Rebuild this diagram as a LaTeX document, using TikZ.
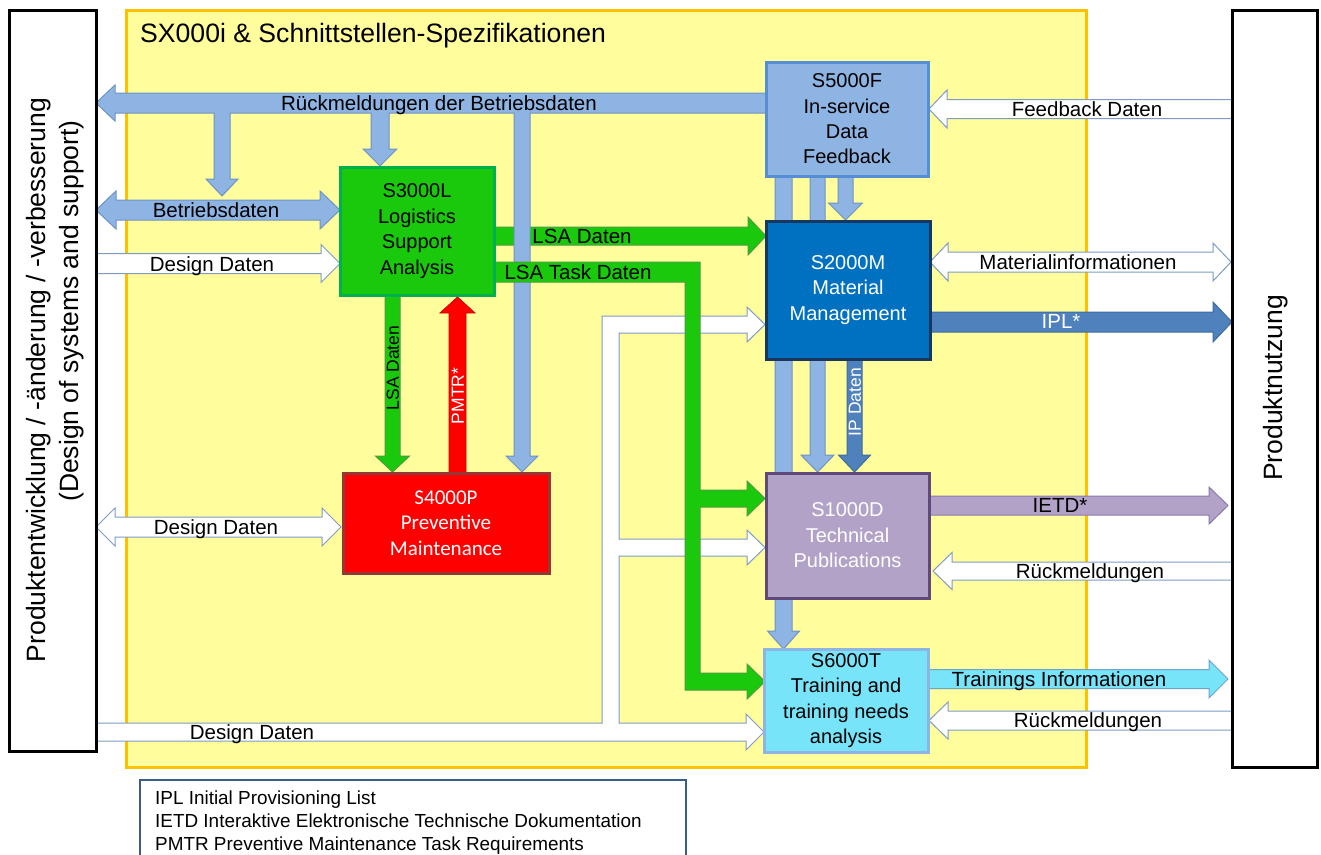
\documentclass[tikz,border=0pt]{standalone}
\usepackage{fontspec}
\setmainfont{Liberation Sans}
\newfontfamily\calibri{Carlito}
\definecolor{yel}{HTML}{FFFD9C}
\definecolor{org}{HTML}{FFC000}
\definecolor{lblue}{HTML}{8EB4E3}
\definecolor{lbluebd}{HTML}{6F93C4}
\definecolor{sfivebd}{HTML}{558ED5}
\definecolor{grn}{HTML}{1BC90C}
\definecolor{grnbd}{HTML}{00B050}
\definecolor{grnarbd}{HTML}{4E9A3E}
\definecolor{mblue}{HTML}{0070C0}
\definecolor{navy}{HTML}{17375E}
\definecolor{ipblue}{HTML}{4F81BD}
\definecolor{ipbd}{HTML}{3F6BA0}
\definecolor{redbd}{HTML}{953735}
\definecolor{purp}{HTML}{B3A2C7}
\definecolor{purpbd}{HTML}{5F497A}
\definecolor{purparbd}{HTML}{8B78AA}
\definecolor{cyn}{HTML}{77E4F9}
\definecolor{cynarbd}{HTML}{6FA3C8}
\definecolor{wbd}{HTML}{7F9CC4}
\definecolor{legbd}{HTML}{385D8A}
% horizontal block arrow: style, tail x, tip x, y centre, shaft half, head half, signed head length
\newcommand\harr[7]{\path[#1] (#2,{#4-#5}) -- ({#3-(#7)},{#4-#5}) -- ({#3-(#7)},{#4-#6}) -- (#3,#4) -- ({#3-(#7)},{#4+#6}) -- ({#3-(#7)},{#4+#5}) -- (#2,{#4+#5}) -- cycle;}
% vertical block arrow: style, x centre, tail y, tip y, shaft half, head half, signed head length
\newcommand\varr[7]{\path[#1] ({#2-#5},#3) -- ({#2-#5},{#4-(#7)}) -- ({#2-#6},{#4-(#7)}) -- (#2,#4) -- ({#2+#6},{#4-(#7)}) -- ({#2+#5},{#4-(#7)}) -- ({#2+#5},#3) -- cycle;}
% double horizontal block arrow
\newcommand\dharr[7]{\path[#1] (#2,#4) -- ({#2+#7},{#4-#6}) -- ({#2+#7},{#4-#5}) -- ({#3-#7},{#4-#5}) -- ({#3-#7},{#4-#6}) -- (#3,#4) -- ({#3-#7},{#4+#6}) -- ({#3-#7},{#4+#5}) -- ({#2+#7},{#4+#5}) -- ({#2+#7},{#4+#6}) -- cycle;}
\tikzset{
  barrow/.style={fill=lblue, draw=lbluebd, line width=1pt},
  warrow/.style={fill=white, draw=wbd, line width=1pt},
  garrow/.style={fill=grn, draw=grnarbd, line width=1pt},
  rarrow/.style={fill=red, draw=red!80!black, line width=0.8pt},
  iparrow/.style={fill=ipblue, draw=ipbd, line width=1pt},
  parrow/.style={fill=purp, draw=purparbd, line width=1pt},
  carrow/.style={fill=cyn, draw=cynarbd, line width=1pt},
  lbl/.style={inner sep=0pt, text height=14.7pt, text depth=0pt, font=\fontsize{20.5}{24}\selectfont},
  vlbl/.style={inner sep=0pt, rotate=90, text height=12.5pt, text depth=0pt, font=\fontsize{17.5}{20}\selectfont},
  box/.style={rectangle, line width=3pt, align=center, inner sep=0pt, font=\fontsize{20}{25.4}\selectfont},
  sidebox/.style={draw=black, line width=3pt},
}
\begin{document}
\begin{tikzpicture}[x=1pt, y=-1pt, line join=miter]
\useasboundingbox (0,0) rectangle (1321,854);
\fill[white] (0,0) rectangle (1321,854);
% yellow frame
\draw[fill=yel, draw=org, line width=3pt] (126,10) rectangle (1086,767);
\node[anchor=west, inner sep=0pt, text height=19pt, text depth=0pt, font=\fontsize{26.6}{30}\selectfont] (title) at (140,33) {SX000i \& Schnittstellen-Spezifikationen};

% white design data structure (bottom)
\path[warrow] (97,723) -- (602,723) -- (602,316) -- (747,316) -- (747,307) -- (765,324.5) -- (747,342) -- (747,333) -- (619,333) -- (619,539) -- (747,539) -- (747,530) -- (765,547.5) -- (747,565) -- (747,556) -- (619,556) -- (619,723) -- (746,723) -- (746,714) -- (764,732) -- (746,750) -- (746,741) -- (97,741) -- cycle;
% LSA Daten (S3000L -> S2000M)
\harr{garrow}{494}{766}{236}{9}{19}{18}
% Rueckmeldungen der Betriebsdaten with branches
\path[barrow] (766,93) -- (115,93) -- (115,85) -- (96,103) -- (115,121) -- (115,113) -- (214,113) -- (214,179) -- (206,179) -- (222,196) -- (238,179) -- (230,179) -- (230,113) -- (371,113) -- (371,149) -- (363,149) -- (380,166) -- (397,149) -- (389,149) -- (389,113) -- (514,113) -- (514,456) -- (506,456) -- (522,472) -- (538,456) -- (530,456) -- (530,113) -- (766,113) -- cycle;
% LSA Task Daten with branches
\path[garrow] (494,262) -- (700,262) -- (700,490) -- (747,490) -- (747,481) -- (765,498.5) -- (747,516) -- (747,507) -- (700,507) -- (700,673) -- (747,673) -- (747,664) -- (765,681.5) -- (747,699) -- (747,690) -- (685,690) -- (685,282) -- (494,282) -- cycle;
% vertical blue bars from S5000F
\varr{barrow}{783.5}{176}{649}{8.5}{16}{18}
\varr{barrow}{817.5}{176}{472}{7.5}{16.5}{17}
\varr{barrow}{845.5}{176}{220}{7.5}{17}{17}
% IP Daten
\varr{iparrow}{854.5}{359}{472}{7.5}{16}{17}
% LSA Daten down, PMTR up
\varr{garrow}{392.5}{295}{472}{7.5}{17}{16}
\varr{rarrow}{457.5}{473}{297}{8.5}{17.5}{-16}
% left side arrows
\dharr{barrow}{96}{340}{210}{10}{19}{20}
\harr{warrow}{97}{340}{263.5}{10}{19}{19}
\dharr{warrow}{96}{341}{527}{10}{19}{19}
% right side arrows
\harr{iparrow}{930}{1232}{322}{10}{20}{19}
\dharr{warrow}{930}{1231}{262}{10}{19}{18}
\harr{warrow}{1232}{929}{109}{9.5}{19}{-18}
\harr{parrow}{929}{1228}{505.5}{9.5}{18.5}{19}
\harr{warrow}{1232}{933}{571}{9}{18.5}{-19}
\harr{carrow}{928}{1228}{679}{9.5}{19}{19}
\harr{warrow}{1232}{929}{720.5}{9.5}{18.5}{-19}

% side boxes
\draw[sidebox] (9.5,10) rectangle (96,751);
\draw[sidebox] (1232,10) rectangle (1317,767);
\node[inner sep=0pt, rotate=90, text height=18.6pt, text depth=0pt, font=\fontsize{26.5}{30}\selectfont] (pe1) at (36,380) {Produktentwicklung / -änderung / -verbesserung};
\node[inner sep=0pt, rotate=90, text height=18.6pt, text depth=0pt, font=\fontsize{26.5}{30}\selectfont] (pe2) at (69,311) {(Design of systems and support)};
\node[inner sep=0pt, rotate=90, text height=18.6pt, text depth=0pt, font=\fontsize{26.5}{30}\selectfont] (pn) at (1273,388) {Produktnutzung};

% main nodes
\node[box, fill=lblue, draw=sfivebd, minimum width=162pt, minimum height=114pt] (s5) at (847,119) {S5000F\\In-service\\Data\\Feedback};
\node[box, fill=grn, draw=grnbd, minimum width=154pt, minimum height=128pt] (s3) at (417,231) {S3000L\\Logistics\\Support\\Analysis};
\node[box, fill=mblue, draw=navy, text=white, minimum width=164pt, minimum height=138pt] (s2) at (848,290) {S2000M\\Material\\Management};
\node[box, fill=red, draw=redbd, text=white, minimum width=206pt, minimum height=100pt, font=\calibri\fontsize{21}{25.4}\selectfont] (s4) at (446,523) {S4000P\\Preventive\\Maintenance};
\node[box, fill=purp, draw=purpbd, text=white, minimum width=163pt, minimum height=125pt] (s1) at (847.5,535.5) {S1000D\\Technical\\Publications};
\node[box, fill=cyn, draw=lblue, minimum width=164pt, minimum height=103pt] (s6) at (846,700.5) {S6000T\\Training and\\training needs\\analysis};

% arrow labels
\node[lbl] (l1) at (439,103) {Rückmeldungen der Betriebsdaten};
\node[lbl] (l2) at (216,210) {Betriebsdaten};
\node[lbl] (l3) at (212,264) {Design Daten};
\node[lbl] (l4) at (216,527) {Design Daten};
\node[lbl] (l5) at (252,732) {Design Daten};
\node[lbl] (l6) at (582,236) {LSA Daten};
\node[lbl] (l7) at (578,272) {LSA Task Daten};
\node[lbl] (l8) at (1087,109) {Feedback Daten};
\node[lbl] (l9) at (1078,262) {Materialinformationen};
\node[lbl, text=white] (l10) at (1061,321) {IPL*};
\node[lbl] (l11) at (1060,505) {IETD*};
\node[lbl] (l12) at (1090,571) {Rückmeldungen};
\node[lbl] (l13) at (1059,679) {Trainings Informationen};
\node[lbl] (l14) at (1088,720) {Rückmeldungen};
\node[vlbl] (v1) at (392.5,368) {LSA Daten};
\node[vlbl, text=white] (v2) at (457.5,396) {PMTR*};
\node[vlbl, text=white] (v3) at (854.5,402) {IP Daten};

% legend
\draw[legbd, line width=2pt] (140,856) -- (140,780) -- (686,780) -- (686,856);
\tikzset{leg/.style={anchor=west, inner sep=0pt, text height=13.5pt, text depth=0pt, font=\fontsize{18.9}{22}\selectfont}}
\node[leg] (g1) at (155,798) {IPL Initial Provisioning List};
\node[leg] (g2) at (155,821) {IETD Interaktive Elektronische Technische Dokumentation};
\node[leg] (g3) at (155,844) {PMTR Preventive Maintenance Task Requirements};
\end{tikzpicture}
\end{document}
